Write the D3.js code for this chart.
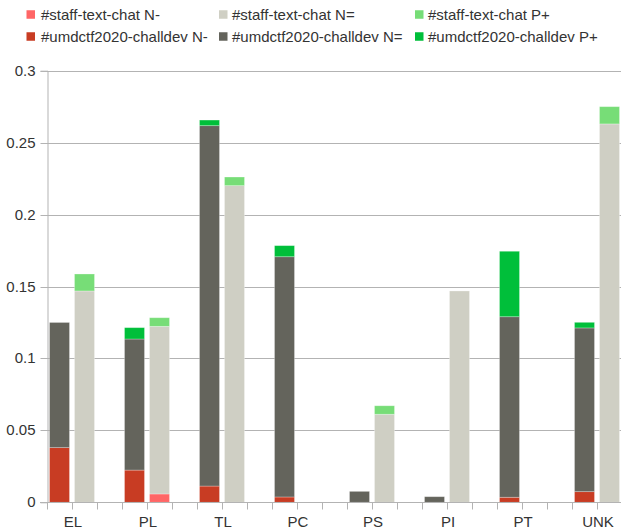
<!DOCTYPE html>
<html>
<head>
<meta charset="utf-8">
<script src="https://cdn.jsdelivr.net/npm/d3@7"></script>
<style>
  html, body { margin: 0; padding: 0; background: #fff; }
  svg { display: block; }
  text { font-family: "Liberation Sans", Arial, sans-serif; fill: #333; }
</style>
</head>
<body>
<div id="chart"></div>
<script>
// ---- data ----
const categories = ["EL", "PL", "TL", "PC", "PS", "PI", "PT", "UNK"];
const channels = ["#umdctf2020-challdev", "#staff-text-chat"];
const levels = ["N-", "N=", "P+"];
// #umdctf2020-challdev
const umdNminus = [0.038, 0.0224, 0.0113, 0.0037, 0, 0, 0.0035, 0.0074];
const umdNeq    = [0.087, 0.0911, 0.2505, 0.1670, 0.0076, 0.0039, 0.1255, 0.1138];
const umdPplus  = [0, 0.0079, 0.0039, 0.0077, 0, 0, 0.0455, 0.0039];
// #staff-text-chat
const staffNminus = [0, 0.0058, 0, 0, 0, 0, 0, 0];
const staffNeq    = [0.1469, 0.1165, 0.2201, 0, 0.0612, 0.1469, 0, 0.263];
const staffPplus  = [0.0118, 0.006, 0.006, 0, 0.0059, 0, 0, 0.012];
const yTicks = [0, 0.05, 0.1, 0.15, 0.2, 0.25, 0.3];

const colors = {
  "#staff-text-chat N-": "#ff6666",
  "#staff-text-chat N=": "#cfcfc4",
  "#staff-text-chat P+": "#77dd77",
  "#umdctf2020-challdev N-": "#c83c23",
  "#umdctf2020-challdev N=": "#64645c",
  "#umdctf2020-challdev P+": "#00bf3a"
};

const seriesValues = {
  "#umdctf2020-challdev": [umdNminus, umdNeq, umdPplus],
  "#staff-text-chat": [staffNminus, staffNeq, staffPplus]
};

// ---- layout ----
const W = 621, H = 531;
const mLeft = 47, mTop = 70.7, mBottom = 502.3;
const groupW = 75;
const FS = 15;

const svg = d3.select("#chart").append("svg").attr("width", W).attr("height", H);

const y = d3.scaleLinear().domain([0, 0.3]).range([mBottom, mTop]);
const x = d3.scaleBand().domain(categories).range([mLeft, mLeft + groupW * categories.length]).padding(0);
const xSub = d3.scaleBand().domain([...channels, "_gap"]).range([0, x.bandwidth()]).padding(0);
const slot = xSub.bandwidth();
const barPad = 2.5;

// grid
svg.append("g").selectAll("line").data(yTicks).join("line")
  .attr("x1", mLeft).attr("x2", W)
  .attr("y1", d => Math.round(y(d)) + 0.5).attr("y2", d => Math.round(y(d)) + 0.5)
  .attr("stroke", "#b3b3b3").attr("stroke-width", 1);

// y axis
const yAxis = d3.axisLeft(y).tickValues(yTicks).tickSize(7).tickPadding(5)
  .tickFormat(d => d3.format("")(d));
const gy = svg.append("g").attr("transform", `translate(${mLeft + 0.5},0)`).call(yAxis);
gy.select(".domain").attr("stroke", "#b3b3b3");
gy.selectAll(".tick line").attr("stroke", "#b3b3b3");
gy.selectAll(".tick text").attr("font-size", FS).attr("fill", "#333")
  .attr("font-family", "'Liberation Sans', Arial, sans-serif");
gy.selectAll(".tick").attr("transform", d => `translate(0,${Math.round(y(d)) + 0.5})`);

// bars
const stackData = [];
channels.forEach(ch => {
  const arrs = seriesValues[ch];
  categories.forEach((cat, i) => {
    let base = 0;
    levels.forEach((lv, k) => {
      const v = arrs[k][i];
      if (v > 0) {
        stackData.push({ cat, ch, key: ch + " " + lv, y0: base, y1: base + v });
      }
      base += v;
    });
  });
});

svg.append("g").selectAll("rect").data(stackData).join("rect")
  .attr("x", d => x(d.cat) + xSub(d.ch) + barPad)
  .attr("width", slot - 2 * barPad)
  .attr("y", d => y(d.y1))
  .attr("height", d => y(d.y0) - y(d.y1))
  .attr("fill", d => colors[d.key])
  .attr("stroke", "#ffffff").attr("stroke-opacity", 0.35).attr("stroke-width", 0.8);

// x axis
const tickPositions = d3.range(categories.length * 3 + 1).map(i => mLeft + i * slot);
svg.append("line").attr("x1", mLeft - 7).attr("x2", W)
  .attr("y1", Math.round(mBottom) + 0.5).attr("y2", Math.round(mBottom) + 0.5)
  .attr("stroke", "#b3b3b3");
svg.append("g").selectAll("line").data(tickPositions).join("line")
  .attr("x1", d => Math.round(d) + 0.5).attr("x2", d => Math.round(d) + 0.5)
  .attr("y1", Math.round(mBottom) + 0.5).attr("y2", Math.round(mBottom) + 7.5)
  .attr("stroke", "#b3b3b3");
svg.append("g").selectAll("text").data(categories).join("text")
  .attr("x", d => x(d) + slot + 1)
  .attr("y", 527)
  .attr("text-anchor", "middle")
  .attr("font-size", FS)
  .text(d => d);

// legend
const legendItems = [
  { key: "#staff-text-chat N-", col: 0, row: 0 },
  { key: "#staff-text-chat N=", col: 1, row: 0 },
  { key: "#staff-text-chat P+", col: 2, row: 0 },
  { key: "#umdctf2020-challdev N-", col: 0, row: 1 },
  { key: "#umdctf2020-challdev N=", col: 1, row: 1 },
  { key: "#umdctf2020-challdev P+", col: 2, row: 1 }
];
const colX = [26.5, 219, 415];
const rowY = [14.5, 36.5];
const lg = svg.append("g").selectAll("g").data(legendItems).join("g")
  .attr("transform", d => `translate(${colX[d.col]},${rowY[d.row]})`);
lg.append("rect").attr("x", 0).attr("y", -4.25).attr("width", 8.5).attr("height", 8.5)
  .attr("fill", d => colors[d.key]);
lg.append("text").attr("x", d => d.col === 0 ? 14.5 : 13).attr("y", 5).attr("font-size", FS).text(d => d.key);
</script>
</body>
</html>
